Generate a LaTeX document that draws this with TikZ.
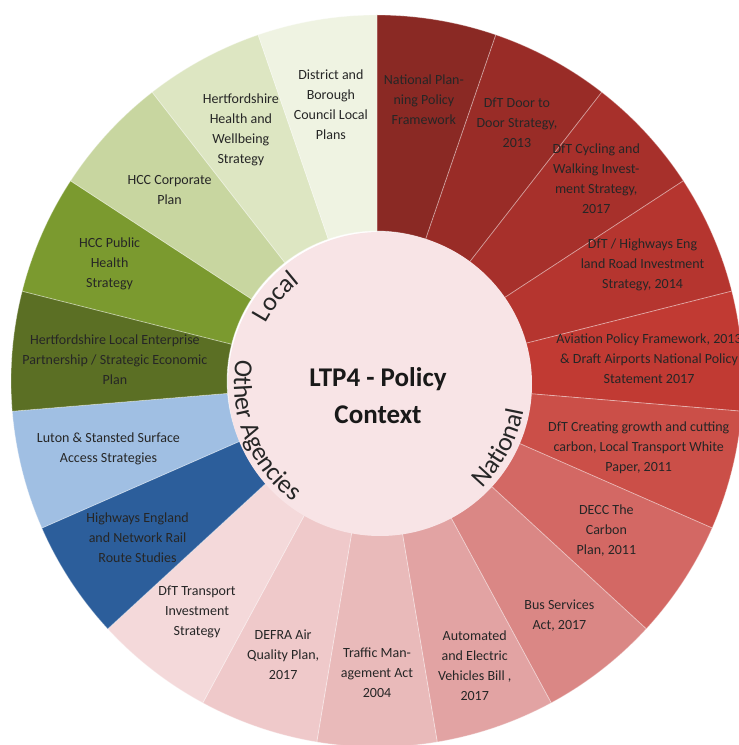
\documentclass[tikz,border=0pt]{standalone}
\usepackage{fontspec}
\setmainfont{Carlito}
\usetikzlibrary{decorations.text}

\definecolor{nat1}{HTML}{8A2924}
\definecolor{nat2}{HTML}{992C27}
\definecolor{nat3}{HTML}{A7302B}
\definecolor{nat4}{HTML}{B5352F}
\definecolor{nat5}{HTML}{C13A33}
\definecolor{nat6}{HTML}{CB4F48}
\definecolor{nat7}{HTML}{D36864}
\definecolor{nat8}{HTML}{DA8785}
\definecolor{nat9}{HTML}{E2A3A3}
\definecolor{nat10}{HTML}{E9BABA}
\definecolor{nat11}{HTML}{EFC9CA}
\definecolor{nat12}{HTML}{F4D9DA}
\definecolor{oth1}{HTML}{2C5E9B}
\definecolor{oth2}{HTML}{A0BFE3}
\definecolor{loc1}{HTML}{5B6F24}
\definecolor{loc2}{HTML}{7B9A2F}
\definecolor{loc3}{HTML}{C8D6A0}
\definecolor{loc4}{HTML}{DDE6C2}
\definecolor{loc5}{HTML}{EFF3E2}
\definecolor{ctr}{HTML}{F8E4E6}

\begin{document}
\begin{tikzpicture} [seg/.style = {draw=white, draw opacity=0.35, line width=0.8pt},
        lbl/.style = {align=center, text=black!85, font=\fontsize{14}{20}\selectfont},
        title/.style = {align=center, text=black!90, font=\fontsize{27}{37}\selectfont\bfseries},
        arclbl/.style = {decorate, shift={(3pt,-3pt)}, decoration={text along path, text align=center, text color=black!85}}]
        \useasboundingbox (-377pt,-364pt) rectangle (362pt,381pt);
        \fill [white] (-377pt,-364pt) rectangle (362pt,381pt);

        \foreach \k/\col/\rad/\txt in {0/nat1/285/{National Plan-\\ning Policy\\Framework},
            1/nat2/294/{DfT Door to\\Door Strategy,\\2013},
            2/nat3/298/{DfT Cycling and\\Walking Invest-\\ment Strategy,\\2017},
            3/nat4/290/{DfT / Highways Eng\\land Road Investment\\Strategy, 2014},
            4/nat5/273/{Aviation Policy Framework, 2013\\\& Draft Airports National Policy\\Statement 2017},
            5/nat6/270/{DfT Creating growth and cutting\\carbon, Local Transport White\\Paper, 2011},
            6/nat7/274/{DECC The\\Carbon\\Plan, 2011},
            7/nat8/297/{Bus Services\\Act, 2017},
            8/nat9/301/{Automated\\and Electric\\Vehicles Bill ,\\2017},
            9/nat10/292/{Traffic Man-\\agement Act\\2004},
            10/nat11/289/{DEFRA Air\\Quality Plan,\\2017},
            11/nat12/293/{DfT Transport\\Investment\\Strategy},
            12/oth1/286/{Highways England\\and Network Rail\\Route Studies},
            13/oth2/277/{Luton \& Stansted Surface\\Access Strategies},
            14/loc1/263/{Hertfordshire Local Enterprise\\Partnership / Strategic Economic\\Plan},
            15/loc2/292/{HCC Public\\Health\\Strategy},
            16/loc3/282/{HCC Corporate\\Plan},
            17/loc4/286/{Hertfordshire\\Health and\\Wellbeing\\Strategy},
            18/loc5/280/{District and\\Borough\\Council Local\\Plans}}
        {
            \pgfmathsetmacro{\a}{90-\k*360/19}
            \pgfmathsetmacro{\b}{\a-360/19}
            \pgfmathsetmacro{\m}{\a-180/19}
            \path [seg, fill=\col] (\a:150pt) arc [start angle=\a, end angle=\b, radius=150pt]
                -- (\b:366pt) arc [start angle=\b, end angle=\a, radius=366pt] -- cycle;
            \node (s\k) [lbl] at (\m:\rad pt) {\txt};
        }

        \node (hub) [circle, fill=ctr, minimum size=304pt, inner sep=0pt] at (3pt,-3pt) {};
        \node (ctx) [title] at (1pt,-15pt) {LTP4 - Policy\\Context};

        \path [arclbl, decoration={text={|\fontsize{26}{26}\selectfont|Local}}]
            (192:129pt) arc [start angle=192, end angle=88, radius=129pt];
        \path [arclbl, decoration={text={|\fontsize{26}{26}\selectfont|Other Agencies}}]
            (148:146pt) arc [start angle=148, end angle=256, radius=146pt];
        \path [arclbl, decoration={text={|\fontsize{26}{26}\selectfont|National}}]
            (-82:146pt) arc [start angle=-82, end angle=26, radius=146pt];

    \end{tikzpicture}
\end{document}
